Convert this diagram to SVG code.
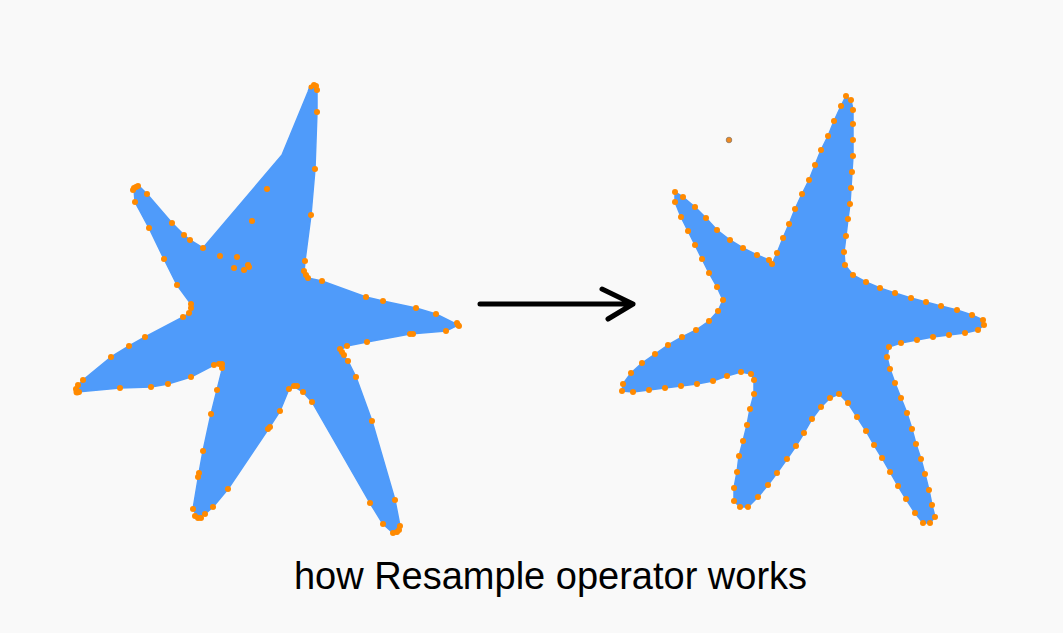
<svg xmlns="http://www.w3.org/2000/svg" width="1063" height="633" viewBox="0 0 1063 633">
<style>
.star{fill:#4f9bfa;stroke:#4f9bfa;stroke-width:1.5;stroke-linejoin:round}
.d circle{fill:#ff8a00}
.arrow{fill:none;stroke:#000;stroke-width:5;stroke-linecap:round;stroke-linejoin:round}
.cap{font-family:"Liberation Sans",Arial,sans-serif;font-size:38px;fill:#000}
</style>
<rect width="1063" height="633" fill="#f9f9f9"/>
<g id="star-before">
<polygon class="star" points="310,86 317,90 317,112 315,169 311,215 305,261 304,272 308,278 322,281 366,297 383,301 416,308 436,314 458,325 446,331 410,334 367,342 347,346 340,350 343,355 348,361 356,377 372,421 395,500 400,526 397,534 393,533 383,524 370,503 312,402 303,392 295,387 289,389 280,411 269,428 228,489 213,507 205,514 198,518 193,509 199,473 203,451 211,414 217,390 222,370 220,364 214,365 191,377 168,384 151,387 120,388 77,392 75,389 83,380 111,357 129,346 145,337 183,317 189,313 191,308 191,304 177,285 164,259 149,228 135,202 134,188 139,186 147,194 172,223 184,235 190,240 203,248 282,155 308,92"/>
<g class="d">
<circle cx="314" cy="85" r="3"/><circle cx="316" cy="86" r="3"/><circle cx="311" cy="87" r="2.5"/><circle cx="317" cy="90" r="3"/>
<circle cx="317" cy="112" r="3"/><circle cx="315" cy="169" r="3"/><circle cx="311" cy="215" r="3"/><circle cx="305" cy="261" r="3"/>
<circle cx="304" cy="271" r="3"/><circle cx="306" cy="275" r="3"/><circle cx="308" cy="278" r="3"/><circle cx="322" cy="281" r="3"/>
<circle cx="366" cy="297" r="3"/><circle cx="383" cy="301" r="3"/><circle cx="416" cy="308" r="3"/><circle cx="436" cy="314" r="3"/>
<circle cx="457" cy="323" r="3"/><circle cx="459" cy="326" r="3"/><circle cx="458" cy="325" r="3"/><circle cx="446" cy="331" r="3"/>
<circle cx="410" cy="334" r="3"/><circle cx="413" cy="334" r="3"/><circle cx="367" cy="342" r="3"/><circle cx="347" cy="346" r="3"/>
<circle cx="340" cy="349" r="3"/><circle cx="342" cy="352" r="3"/><circle cx="344" cy="355" r="3"/><circle cx="348" cy="361" r="3"/>
<circle cx="356" cy="377" r="3"/><circle cx="372" cy="421" r="3"/><circle cx="395" cy="500" r="3"/><circle cx="400" cy="526" r="3"/>
<circle cx="397" cy="532" r="3"/><circle cx="393" cy="533" r="3"/><circle cx="399" cy="530" r="3"/><circle cx="383" cy="524" r="3"/>
<circle cx="370" cy="503" r="3"/><circle cx="312" cy="402" r="3"/><circle cx="303" cy="392" r="3"/><circle cx="294" cy="386" r="3"/>
<circle cx="297" cy="386" r="3"/><circle cx="289" cy="389" r="3"/><circle cx="280" cy="411" r="3"/><circle cx="268" cy="429" r="3"/>
<circle cx="270" cy="427" r="3"/><circle cx="228" cy="489" r="3"/><circle cx="213" cy="507" r="3"/><circle cx="205" cy="514" r="3"/>
<circle cx="198" cy="518" r="3"/><circle cx="201" cy="518" r="3"/><circle cx="195" cy="516" r="3"/><circle cx="193" cy="509" r="3"/>
<circle cx="199" cy="473" r="3"/><circle cx="198" cy="477" r="3"/><circle cx="203" cy="451" r="3"/><circle cx="211" cy="414" r="3"/>
<circle cx="217" cy="390" r="3"/><circle cx="222" cy="368" r="3"/><circle cx="222" cy="364" r="3"/><circle cx="219" cy="364" r="3"/>
<circle cx="214" cy="365" r="3"/><circle cx="191" cy="377" r="3"/><circle cx="168" cy="384" r="3"/><circle cx="151" cy="387" r="3"/>
<circle cx="120" cy="388" r="3"/><circle cx="77" cy="392" r="3.5"/><circle cx="76" cy="389" r="3"/><circle cx="79" cy="392" r="3"/>
<circle cx="78" cy="385" r="3"/><circle cx="83" cy="380" r="3"/><circle cx="111" cy="357" r="3"/><circle cx="129" cy="346" r="3"/>
<circle cx="145" cy="337" r="3"/><circle cx="183" cy="317" r="3"/><circle cx="189" cy="313" r="3"/><circle cx="191" cy="308" r="3"/>
<circle cx="191" cy="304" r="3"/><circle cx="177" cy="285" r="3"/><circle cx="164" cy="259" r="3"/><circle cx="149" cy="228" r="3"/>
<circle cx="135" cy="202" r="3"/><circle cx="134" cy="188" r="3"/><circle cx="136" cy="187" r="3"/><circle cx="133" cy="190" r="3"/>
<circle cx="138" cy="186" r="3"/><circle cx="147" cy="194" r="3"/><circle cx="172" cy="223" r="3"/><circle cx="184" cy="235" r="3"/>
<circle cx="190" cy="240" r="3"/><circle cx="203" cy="248" r="3"/>
<circle cx="267" cy="189" r="3"/><circle cx="252" cy="221" r="3"/><circle cx="220" cy="256" r="3"/><circle cx="237" cy="257" r="3"/>
<circle cx="234" cy="268" r="3"/><circle cx="244" cy="270" r="3"/><circle cx="249" cy="267" r="3"/><circle cx="248" cy="265" r="3"/>
</g>
</g>
<g id="arrow">
<path class="arrow" d="M480,304 H633 M602,289 L633,304 L608,319"/>
</g>
<g id="star-after">
<polygon class="star" points="846,96 851,100 853,110 853,124 853,140 853,156 852,172 851,188 850,204 848,219 846,236 844,252 845,265 853,275 866,282 880,288 895,293 911,298 926,302 941,306 957,310 972,315 983,320 984,325 978,330 965,333 949,335 933,337 917,340 901,343 889,347 887,357 890,369 895,383 901,398 907,413 912,429 916,444 921,459 925,474 929,490 932,505 935,517 930,523 923,523 915,513 906,499 898,486 890,472 882,458 874,445 866,431 857,417 848,403 839,394 830,398 821,407 812,419 804,433 796,446 787,459 777,473 768,485 758,497 748,507 740,507 734,501 734,488 737,472 739,456 743,441 747,425 750,409 754,394 754,380 751,374 741,372 727,376 713,381 697,384 681,386 665,388 649,390 633,392 622,391 623,384 631,373 642,363 655,354 668,345 682,337 696,330 709,321 718,311 723,300 717,287 709,273 702,259 695,245 688,231 681,217 675,202 675,192 683,197 695,207 706,218 717,230 730,240 743,248 757,255 769,260 772,264 777,253 783,238 789,224 795,209 802,194 809,180 815,165 821,150 828,136 834,121 841,106"/>
<g class="d">
<circle cx="846" cy="96" r="3"/><circle cx="851" cy="100" r="3"/><circle cx="853" cy="110" r="3"/><circle cx="853" cy="124" r="3"/><circle cx="853" cy="140" r="3"/><circle cx="853" cy="156" r="3"/><circle cx="852" cy="172" r="3"/><circle cx="851" cy="188" r="3"/><circle cx="850" cy="204" r="3"/><circle cx="848" cy="219" r="3"/><circle cx="846" cy="236" r="3"/><circle cx="844" cy="252" r="3"/><circle cx="845" cy="265" r="3"/><circle cx="853" cy="275" r="3"/><circle cx="866" cy="282" r="3"/><circle cx="880" cy="288" r="3"/><circle cx="895" cy="293" r="3"/><circle cx="911" cy="298" r="3"/><circle cx="926" cy="302" r="3"/><circle cx="941" cy="306" r="3"/><circle cx="957" cy="310" r="3"/><circle cx="972" cy="315" r="3"/><circle cx="983" cy="320" r="3"/><circle cx="984" cy="325" r="3"/><circle cx="978" cy="330" r="3"/><circle cx="965" cy="333" r="3"/><circle cx="949" cy="335" r="3"/><circle cx="933" cy="337" r="3"/><circle cx="917" cy="340" r="3"/><circle cx="901" cy="343" r="3"/><circle cx="889" cy="347" r="3"/><circle cx="887" cy="357" r="3"/><circle cx="890" cy="369" r="3"/><circle cx="895" cy="383" r="3"/><circle cx="901" cy="398" r="3"/><circle cx="907" cy="413" r="3"/><circle cx="912" cy="429" r="3"/><circle cx="916" cy="444" r="3"/><circle cx="921" cy="459" r="3"/><circle cx="925" cy="474" r="3"/><circle cx="929" cy="490" r="3"/><circle cx="932" cy="505" r="3"/><circle cx="935" cy="517" r="3"/><circle cx="930" cy="523" r="3"/><circle cx="923" cy="523" r="3"/><circle cx="915" cy="513" r="3"/><circle cx="906" cy="499" r="3"/><circle cx="898" cy="486" r="3"/><circle cx="890" cy="472" r="3"/><circle cx="882" cy="458" r="3"/><circle cx="874" cy="445" r="3"/><circle cx="866" cy="431" r="3"/><circle cx="857" cy="417" r="3"/><circle cx="848" cy="403" r="3"/><circle cx="839" cy="394" r="3"/><circle cx="830" cy="398" r="3"/><circle cx="821" cy="407" r="3"/><circle cx="812" cy="419" r="3"/><circle cx="804" cy="433" r="3"/><circle cx="796" cy="446" r="3"/><circle cx="787" cy="459" r="3"/><circle cx="777" cy="473" r="3"/><circle cx="768" cy="485" r="3"/><circle cx="758" cy="497" r="3"/><circle cx="748" cy="507" r="3"/><circle cx="740" cy="507" r="3"/><circle cx="734" cy="501" r="3"/><circle cx="734" cy="488" r="3"/><circle cx="737" cy="472" r="3"/><circle cx="739" cy="456" r="3"/><circle cx="743" cy="441" r="3"/><circle cx="747" cy="425" r="3"/><circle cx="750" cy="409" r="3"/><circle cx="754" cy="394" r="3"/><circle cx="754" cy="380" r="3"/><circle cx="751" cy="374" r="3"/><circle cx="741" cy="372" r="3"/><circle cx="727" cy="376" r="3"/><circle cx="713" cy="381" r="3"/><circle cx="697" cy="384" r="3"/><circle cx="681" cy="386" r="3"/><circle cx="665" cy="388" r="3"/><circle cx="649" cy="390" r="3"/><circle cx="633" cy="392" r="3"/><circle cx="622" cy="391" r="3"/><circle cx="623" cy="384" r="3"/><circle cx="631" cy="373" r="3"/><circle cx="642" cy="363" r="3"/><circle cx="655" cy="354" r="3"/><circle cx="668" cy="345" r="3"/><circle cx="682" cy="337" r="3"/><circle cx="696" cy="330" r="3"/><circle cx="709" cy="321" r="3"/><circle cx="718" cy="311" r="3"/><circle cx="723" cy="300" r="3"/><circle cx="717" cy="287" r="3"/><circle cx="709" cy="273" r="3"/><circle cx="702" cy="259" r="3"/><circle cx="695" cy="245" r="3"/><circle cx="688" cy="231" r="3"/><circle cx="681" cy="217" r="3"/><circle cx="675" cy="202" r="3"/><circle cx="675" cy="192" r="3"/><circle cx="683" cy="197" r="3"/><circle cx="695" cy="207" r="3"/><circle cx="706" cy="218" r="3"/><circle cx="717" cy="230" r="3"/><circle cx="730" cy="240" r="3"/><circle cx="743" cy="248" r="3"/><circle cx="757" cy="255" r="3"/><circle cx="769" cy="260" r="3"/><circle cx="772" cy="264" r="3"/><circle cx="777" cy="253" r="3"/><circle cx="783" cy="238" r="3"/><circle cx="789" cy="224" r="3"/><circle cx="795" cy="209" r="3"/><circle cx="802" cy="194" r="3"/><circle cx="809" cy="180" r="3"/><circle cx="815" cy="165" r="3"/><circle cx="821" cy="150" r="3"/><circle cx="828" cy="136" r="3"/><circle cx="834" cy="121" r="3"/><circle cx="841" cy="106" r="3"/>
</g>
<circle cx="729" cy="140" r="2.8" fill="#f08a20" stroke="#8a7a6a" stroke-width="0.8"/>
</g>
<text class="cap" x="550.5" y="589" text-anchor="middle">how Resample operator works</text>
</svg>
